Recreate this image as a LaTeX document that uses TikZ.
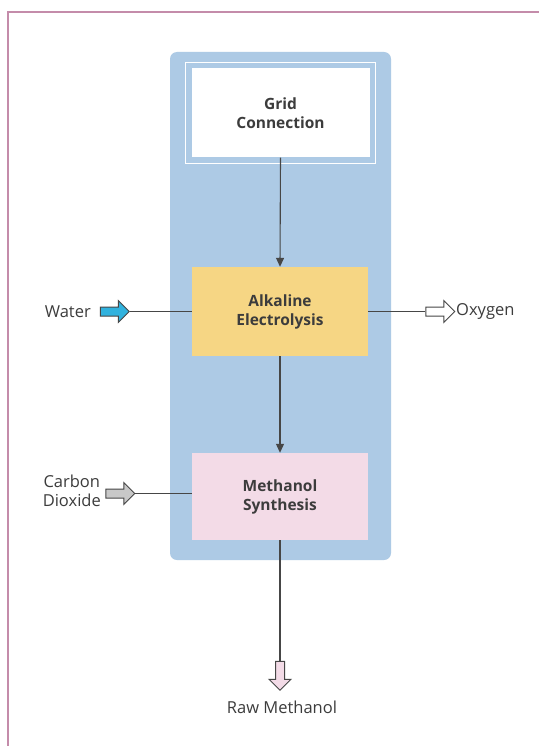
\documentclass[tikz,border=0pt]{standalone}
\usepackage{fontspec}
\setmainfont{Open Sans}
\usetikzlibrary{positioning, fit, arrows.meta, shapes.arrows}
\definecolor{panelbg}{RGB}{173,202,229}
\definecolor{alkalinebg}{RGB}{246,214,132}
\definecolor{synthbg}{RGB}{243,219,231}
\definecolor{waterbg}{RGB}{48,178,222}
\definecolor{co2bg}{RGB}{200,200,200}
\definecolor{linecol}{RGB}{70,70,70}
\definecolor{textcol}{RGB}{60,60,60}
\definecolor{framecol}{RGB}{196,140,170}

\begin{document}
\begin{tikzpicture}[
    x=1pt, y=-1pt,
    stage/.style={
        rectangle,
        minimum width=176pt,
        minimum height=88pt,
        align=center,
        inner sep=0pt,
        font=\fontsize{15.5}{19}\selectfont\bfseries,
        text=textcol
    },
    label/.style={
        align=center,
        inner sep=0pt,
        font=\fontsize{16.5}{18.5}\selectfont,
        text=textcol
    },
    flowarrow/.style={
        single arrow,
        draw=linecol,
        line width=1pt,
        minimum height=29pt,
        minimum width=21pt,
        single arrow head extend=6.5pt,
        inner sep=4pt
    },
    link/.style={
        draw=linecol,
        line width=1.1pt
    },
    feed/.style={
        link,
        -{Triangle[length=9pt, width=8pt]}
    }
]

\fill[white] (0,0) rectangle (539,746);
\useasboundingbox (0,0) rectangle (539,746);

% Page frame
\draw[framecol, line width=1.5pt] (8,746) -- (8,12) -- (539,12);

% Plant panel
\node[rectangle, rounded corners=7pt, fill=panelbg,
      minimum width=221pt, minimum height=508pt] (panel) at (280.5,306) {};

% Grid Connection
\node[stage, fill=white, minimum width=178pt, minimum height=89pt] (grid) at (280.5,113) {Grid\\Connection};
\node[draw=white, line width=0.8pt, fit=(grid), inner sep=5.5pt] (gridframe) {};

% Alkaline Electrolysis
\node[stage, fill=alkalinebg, minimum height=89pt] (alkaline) at (280,311.5) {Alkaline\\Electrolysis};

% Methanol Synthesis
\node[stage, fill=synthbg, minimum height=87pt] (synthesis) at (280,496.5) {Methanol\\Synthesis};

% Water in
\node[flowarrow, fill=waterbg] (waterin) at (112.5,311.5) {};
\node[label, anchor=east] (water) at (91,311.5) {Water};

% Oxygen out
\node[flowarrow, fill=white] (oxygenout) at (438,311.5) {};
\node[label, anchor=west] (oxygen) at (456,311.5) {Oxygen};

% Carbon dioxide in
\node[flowarrow, fill=co2bg] (co2in) at (118,493.5) {};
\node[label, anchor=east] (co2) at (101,491) {Carbon\\Dioxide};

% Raw methanol out
\node[flowarrow, fill=synthbg, rotate=-90] (methanolout) at (280,673.5) {};
\node[label] (rawmethanol) at (282,707) {Raw Methanol};

% Connections
\draw[feed] (grid.south) -- (alkaline.north);
\draw[feed] (alkaline.south) -- (synthesis.north);
\draw[link] (waterin.tip) -- (alkaline.west);
\draw[link] (alkaline.east) -- (oxygenout.tail);
\draw[link] (co2in.tip) -- (co2in.tip -| synthesis.west);
\draw[link] (synthesis.south) -- (methanolout.tail);

\end{tikzpicture}
\end{document}
